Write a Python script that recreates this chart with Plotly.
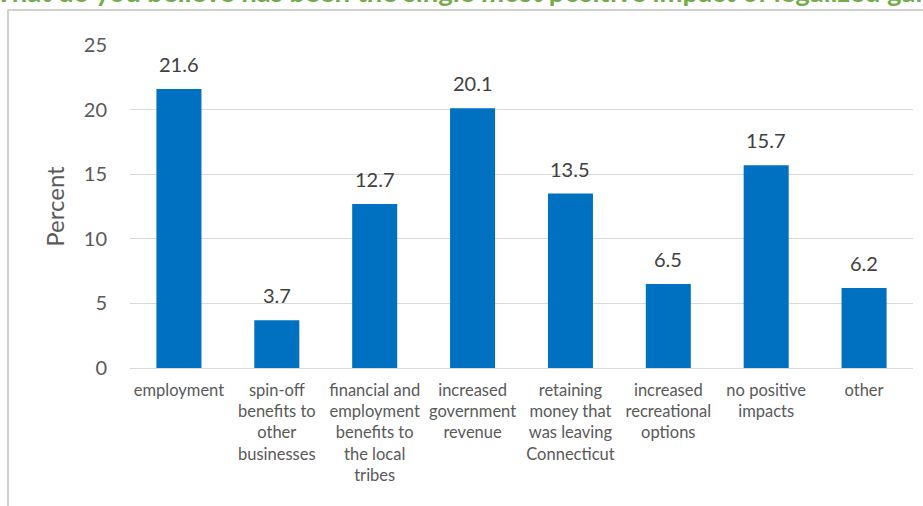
import plotly.graph_objects as go

categories = [
    "employment",
    "spin-off<br>benefits to<br>other<br>businesses",
    "financial and<br>employment<br>benefits to<br>the local<br>tribes",
    "increased<br>government<br>revenue",
    "retaining<br>money that<br>was leaving<br>Connecticut",
    "increased<br>recreational<br>options",
    "no positive<br>impacts",
    "other",
]
percent = [21.6, 3.7, 12.7, 20.1, 13.5, 6.5, 15.7, 6.2]
y_ticks = [0, 5, 10, 15, 20, 25]
title_text = "What do you believe has been the single most positive impact of legalized gambling?"

FONT = "Lato"
W, H = 923, 506
ML, MR, MT, MB = 130, 10, 45, 138
plot_w = W - ML - MR
plot_h = H - MT - MB


def px_to_paper_x(px):
    return (px - ML) / plot_w


def px_to_paper_y(py):
    return (H - MB - py) / plot_h


fig = go.Figure(
    go.Bar(
        x=categories,
        y=percent,
        marker=dict(color="#0070C0", line=dict(width=0)),
        width=0.46,
        hoverinfo="x+y",
    )
)

# value labels sit a little above each bar
value_labels = [
    dict(
        x=c,
        y=v,
        xref="x",
        yref="y",
        text=f"{v:.1f}",
        showarrow=False,
        yanchor="bottom",
        yshift=11,
        font=dict(family=FONT, size=20, color="#404040"),
    )
    for c, v in zip(categories, percent)
]

# chart-area frame: top and left edges (the others run past the page)
frame_style = dict(color="#D0D0D0", width=2)
frame = [
    dict(
        type="line", xref="paper", yref="paper",
        x0=px_to_paper_x(8), x1=px_to_paper_x(930),
        y0=px_to_paper_y(10), y1=px_to_paper_y(10),
        line=frame_style, layer="above",
    ),
    dict(
        type="line", xref="paper", yref="paper",
        x0=px_to_paper_x(8), x1=px_to_paper_x(8),
        y0=px_to_paper_y(10), y1=px_to_paper_y(520),
        line=frame_style, layer="above",
    ),
]

fig.update_layout(
    width=W,
    height=H,
    margin=dict(l=ML, r=MR, t=MT, b=MB, pad=0),
    paper_bgcolor="white",
    plot_bgcolor="white",
    showlegend=False,
    font=dict(family=FONT, color="#595959"),
    xaxis=dict(
        tickfont=dict(family=FONT, size=16.5, color="#595959"),
        showgrid=False,
        showline=False,
        ticks="",
        ticklabelstandoff=10,
        tickangle=0,
    ),
    yaxis=dict(
        range=[0, 25],
        tickvals=y_ticks,
        tickfont=dict(family=FONT, size=20, color="#595959"),
        showgrid=True,
        gridcolor="#D9D9D9",
        gridwidth=1,
        zeroline=True,
        zerolinecolor="#D9D9D9",
        zerolinewidth=1,
        showline=False,
        ticks="",
        ticklabelstandoff=22,
        title=dict(text="Percent", font=dict(family=FONT, size=24, color="#595959"), standoff=12),
    ),
    shapes=frame,
    annotations=value_labels
    + [
        dict(
            text=f"<b>{title_text}</b>",
            xref="paper",
            yref="paper",
            x=px_to_paper_x(497),
            y=px_to_paper_y(10),
            xanchor="center",
            yanchor="bottom",
            showarrow=False,
            font=dict(family=FONT, size=27.5, color="#70AD47"),
        )
    ],
)

fig.write_html("out.html")
